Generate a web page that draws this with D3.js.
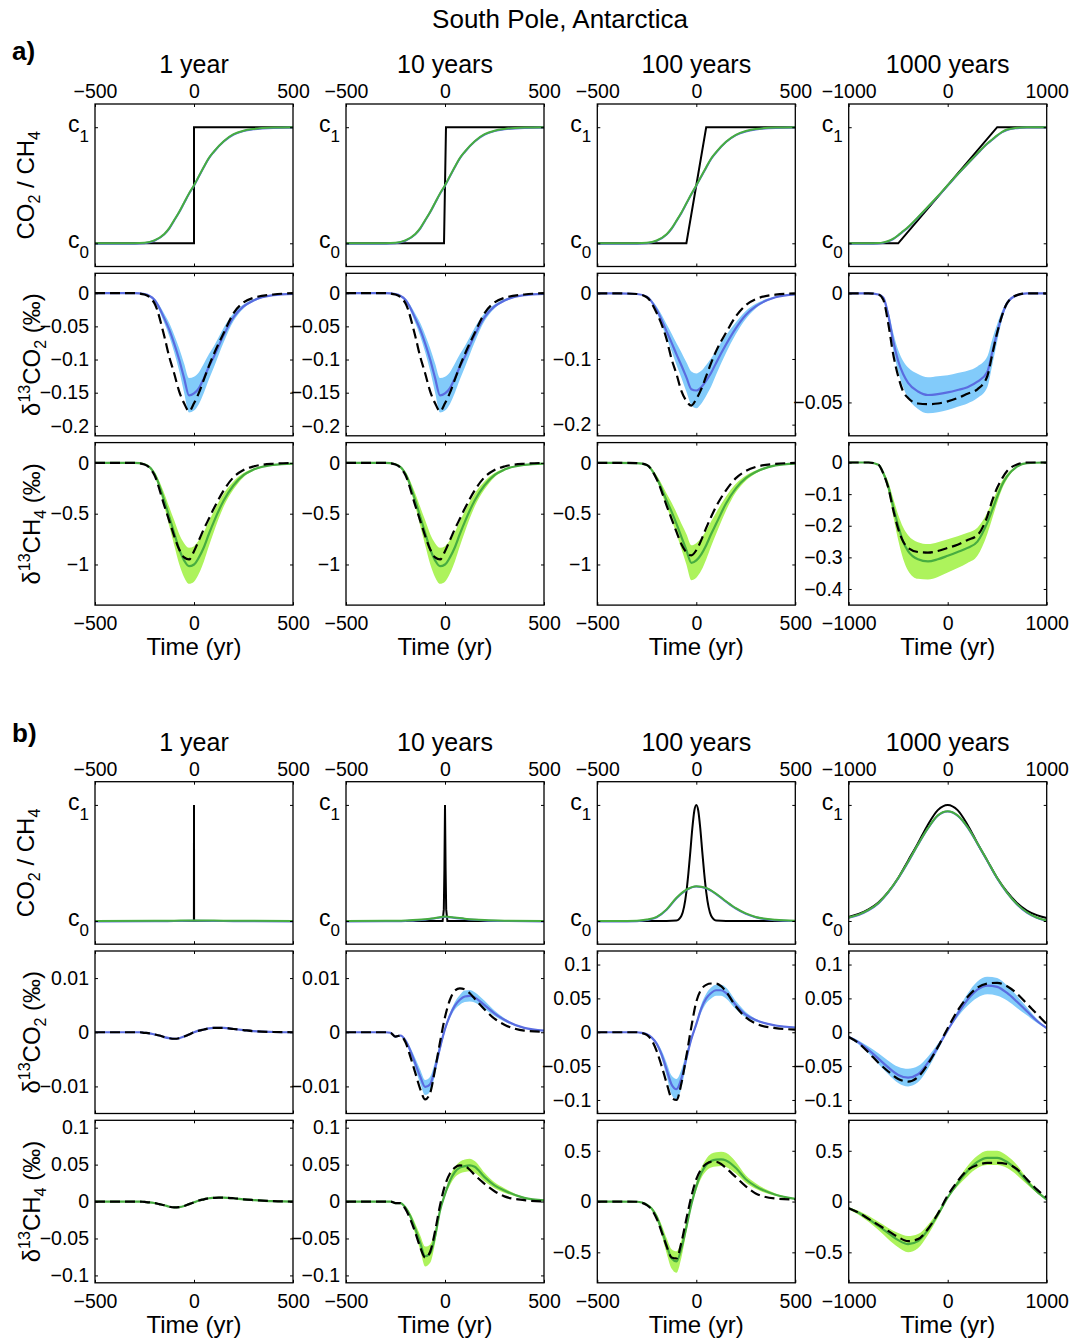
<!DOCTYPE html>
<html>
<head>
<meta charset="utf-8">
<script src="https://cdn.jsdelivr.net/npm/d3@7/dist/d3.min.js"></script>
<style>
  body { margin: 0; background: #fff; }
  svg text { font-family: "Liberation Sans", Arial, Helvetica, sans-serif; fill: #000; }
</style>
</head>
<body>
<div id="chart"></div>
<script>
// ---------------- data ----------------
const colTitles = ["1 year", "10 years", "100 years", "1000 years"];
const xTicks500 = [-500, 0, 500];
const xLabels500 = ["\u2212500", "0", "500"];
const xTicks1000 = [-1000, 0, 1000];
const xLabels1000 = ["\u22121000", "0", "1000"];

// time grids
const tA = [-500,-400,-300,-250,-200,-150,-125,-100,-75,-50,-25,0,25,50,75,100,150,200,250,300,400,500];
const tA1000 = [-1000,-800,-700,-650,-600,-550,-500,-450,-400,-300,-200,-100,0,100,200,300,400,450,500,550,600,700,800,1000];
const tB = [-500,-400,-300,-275,-250,-225,-200,-175,-150,-125,-100,-75,-50,-25,0,25,50,75,100,125,150,200,250,300,400,500];
const tB1000 = [-1000,-900,-800,-700,-600,-500,-400,-300,-200,-100,0,100,200,300,400,500,600,700,800,900,1000];

// a) step forcing, normalised concentration (c0 = 0, c1 = 1)
const stepT1 = [-500, 0, 0, 500], stepV1 = [0, 0, 1, 1];
const stepT10 = [-500, -5, 5, 500], stepV10 = [0, 0, 1, 1];
const stepT100 = [-500, -50, 50, 500], stepV100 = [0, 0, 1, 1];
const stepT1000 = [-1000, -500, 500, 1000], stepV1000 = [0, 0, 1, 1];
const concA1 = [0,0,0,0.004,0.025,0.08,0.13,0.2,0.27,0.35,0.43,0.5,0.58,0.66,0.735,0.79,0.88,0.94,0.97,0.985,0.997,1];
const concA3 = [0,0,0,0.004,0.024,0.078,0.128,0.195,0.265,0.345,0.425,0.5,0.578,0.655,0.73,0.785,0.875,0.935,0.967,0.984,0.997,1];
const concA4 = [0,0,0.002,0.008,0.02,0.04,0.07,0.105,0.14,0.225,0.315,0.405,0.5,0.595,0.685,0.775,0.86,0.895,0.93,0.96,0.98,0.995,1,1];

// a) d13CO2
const co2A1 = [0,0,0,-0.0015,-0.01,-0.038,-0.055,-0.076,-0.1,-0.128,-0.154,-0.151,-0.143,-0.128,-0.111,-0.096,-0.063,-0.036,-0.02,-0.011,-0.003,-0.001];
const co2A1hi = [0,0,0,-0.001,-0.008,-0.031,-0.045,-0.063,-0.083,-0.106,-0.128,-0.126,-0.119,-0.106,-0.092,-0.08,-0.052,-0.03,-0.017,-0.009,-0.0025,-0.0008];
const co2A1lo = [0,0,0,-0.002,-0.012,-0.045,-0.065,-0.089,-0.117,-0.15,-0.18,-0.177,-0.167,-0.15,-0.13,-0.112,-0.074,-0.042,-0.023,-0.013,-0.0035,-0.0012];
const co2A1obs = [0,0,0,-0.002,-0.015,-0.065,-0.096,-0.121,-0.148,-0.166,-0.178,-0.166,-0.15,-0.13,-0.11,-0.092,-0.06,-0.03,-0.014,-0.007,-0.002,0];
const co2A3 = [0,0,-0.001,-0.005,-0.025,-0.058,-0.075,-0.093,-0.11,-0.128,-0.146,-0.148,-0.143,-0.133,-0.121,-0.106,-0.078,-0.053,-0.033,-0.02,-0.006,-0.0015];
const co2A3hi = [0,0,-0.001,-0.004,-0.02,-0.047,-0.061,-0.076,-0.09,-0.105,-0.119,-0.122,-0.118,-0.109,-0.099,-0.087,-0.064,-0.044,-0.027,-0.016,-0.005,-0.0012];
const co2A3lo = [0,0,-0.001,-0.006,-0.03,-0.068,-0.088,-0.109,-0.129,-0.15,-0.17,-0.175,-0.168,-0.156,-0.142,-0.124,-0.091,-0.062,-0.039,-0.023,-0.007,-0.0018];
const co2A3obs = [0,0,-0.001,-0.006,-0.03,-0.07,-0.1,-0.123,-0.149,-0.164,-0.171,-0.161,-0.146,-0.126,-0.106,-0.088,-0.06,-0.035,-0.018,-0.009,-0.002,0];
const co2A4 = [0,0,-0.0005,-0.002,-0.01,-0.022,-0.031,-0.037,-0.041,-0.045,-0.0466,-0.0462,-0.0454,-0.0443,-0.043,-0.0405,-0.036,-0.027,-0.018,-0.01,-0.0045,-0.0008,0,0];
const co2A4hi = [0,0,-0.0004,-0.0017,-0.008,-0.018,-0.026,-0.031,-0.034,-0.037,-0.0385,-0.038,-0.0375,-0.0365,-0.0355,-0.0335,-0.029,-0.021,-0.014,-0.008,-0.0036,-0.0006,0,0];
const co2A4lo = [0,0,-0.0006,-0.0023,-0.012,-0.026,-0.036,-0.043,-0.048,-0.053,-0.055,-0.0545,-0.0535,-0.052,-0.0505,-0.048,-0.043,-0.033,-0.022,-0.012,-0.0054,-0.001,0,0];
const co2A4obs = [0,0,-0.0005,-0.003,-0.014,-0.028,-0.038,-0.045,-0.048,-0.0505,-0.0508,-0.0505,-0.0495,-0.048,-0.046,-0.044,-0.038,-0.028,-0.018,-0.01,-0.0045,-0.0008,0,0];

// a) d13CH4
const ch4A1 = [0,0,0,-0.013,-0.105,-0.37,-0.53,-0.69,-0.85,-0.96,-1.017,-1.0,-0.93,-0.83,-0.7,-0.58,-0.37,-0.22,-0.12,-0.066,-0.02,-0.007];
const ch4A1hi = [0,0,0,-0.011,-0.086,-0.3,-0.435,-0.565,-0.7,-0.79,-0.835,-0.82,-0.76,-0.68,-0.575,-0.475,-0.3,-0.18,-0.1,-0.054,-0.016,-0.006];
const ch4A1lo = [0,0,0,-0.015,-0.123,-0.43,-0.62,-0.81,-0.995,-1.125,-1.19,-1.17,-1.09,-0.97,-0.82,-0.68,-0.43,-0.26,-0.14,-0.077,-0.023,-0.008];
const ch4A1obs = [0,0,0,-0.015,-0.12,-0.42,-0.57,-0.72,-0.85,-0.93,-0.95,-0.87,-0.76,-0.65,-0.55,-0.45,-0.27,-0.14,-0.07,-0.035,-0.008,0];
const ch4A3 = [0,0,-0.002,-0.02,-0.15,-0.37,-0.48,-0.6,-0.73,-0.86,-0.984,-0.96,-0.9,-0.81,-0.7,-0.6,-0.4,-0.25,-0.15,-0.09,-0.025,-0.007];
const ch4A3hi = [0,0,-0.0015,-0.016,-0.123,-0.3,-0.39,-0.49,-0.6,-0.7,-0.81,-0.79,-0.74,-0.665,-0.575,-0.49,-0.33,-0.205,-0.123,-0.074,-0.02,-0.006];
const ch4A3lo = [0,0,-0.0025,-0.024,-0.175,-0.43,-0.56,-0.7,-0.85,-1.0,-1.155,-1.13,-1.06,-0.95,-0.82,-0.7,-0.47,-0.29,-0.175,-0.105,-0.03,-0.008];
const ch4A3obs = [0,0,-0.002,-0.02,-0.16,-0.42,-0.55,-0.68,-0.8,-0.88,-0.91,-0.86,-0.76,-0.64,-0.53,-0.43,-0.27,-0.15,-0.08,-0.04,-0.01,0];
const ch4A4 = [0,0,-0.007,-0.034,-0.076,-0.14,-0.2,-0.25,-0.28,-0.306,-0.313,-0.306,-0.295,-0.283,-0.27,-0.25,-0.19,-0.15,-0.108,-0.07,-0.044,-0.013,-0.002,0];
const ch4A4hi = [0,0,-0.005,-0.028,-0.062,-0.115,-0.165,-0.205,-0.23,-0.252,-0.258,-0.252,-0.243,-0.233,-0.222,-0.206,-0.158,-0.123,-0.089,-0.058,-0.036,-0.011,-0.0015,0];
const ch4A4lo = [0,0,-0.009,-0.041,-0.092,-0.17,-0.245,-0.305,-0.342,-0.368,-0.37,-0.362,-0.348,-0.334,-0.318,-0.295,-0.226,-0.177,-0.127,-0.083,-0.052,-0.015,-0.0025,0];
const ch4A4obs = [0,0,-0.007,-0.035,-0.08,-0.15,-0.21,-0.25,-0.27,-0.283,-0.285,-0.28,-0.27,-0.26,-0.245,-0.23,-0.17,-0.12,-0.08,-0.05,-0.027,-0.006,0,0];

// b) pulse forcing, normalised concentration
const pulseT1 = [-500, -0.5, 0, 0.5, 500], pulseV1 = [0, 0, 1, 0, 0];
const pulseT10 = [-500, -12, -6, -3, 0, 3, 6, 12, 500], pulseV10 = [0, 0, 0.1, 0.45, 1, 0.45, 0.1, 0, 0];
const pulseT100 = [-500,-150,-100,-75,-50,-40,-30,-20,-10,0,10,20,30,40,50,75,100,150,500];
const pulseV100 = [0,0,0.004,0.045,0.25,0.41,0.6,0.8,0.95,1,0.95,0.8,0.6,0.41,0.25,0.045,0.004,0,0];
const pulseV1000 = [0.035,0.06,0.1,0.16,0.25,0.37,0.52,0.67,0.83,0.955,1,0.955,0.83,0.67,0.52,0.37,0.25,0.155,0.09,0.05,0.025];
const concT_B1 = [-500,-200,-100,0,100,200,500], concB1 = [0,0.001,0.003,0.005,0.004,0.002,0];
const concT_B2 = [-500,-300,-200,-100,-50,0,50,100,200,300,500], concB2 = [0,0.001,0.004,0.014,0.026,0.038,0.03,0.02,0.008,0.003,0];
const concT_B3 = [-500,-400,-300,-250,-200,-150,-100,-50,0,50,100,150,200,250,300,400,500];
const concB3 = [0,0,0.002,0.012,0.035,0.1,0.2,0.27,0.3,0.285,0.235,0.17,0.11,0.065,0.035,0.01,0.003];
const concB4 = [0.03,0.055,0.095,0.155,0.25,0.37,0.51,0.66,0.8,0.91,0.946,0.91,0.81,0.67,0.52,0.37,0.245,0.145,0.075,0.03,0.005];

// b) d13CO2
const co2B1 = [0,0,0,0,-0.0001,-0.0002,-0.0004,-0.0006,-0.0009,-0.0011,-0.0012,-0.0011,-0.0008,-0.0004,0,0.0003,0.0005,0.0007,0.0008,0.0008,0.0008,0.0006,0.0004,0.0002,0.00005,0];
const co2B2 = [0,0,0,-0.0001,-0.0008,-0.0006,-0.0015,-0.0034,-0.0058,-0.0082,-0.0101,-0.0096,-0.0066,-0.0028,0.0006,0.0031,0.0049,0.006,0.0066,0.0067,0.0064,0.005,0.0035,0.0023,0.0008,0.0003];
const co2B2hi = [0,0,0,-0.0001,-0.0007,-0.0006,-0.0012,-0.0028,-0.0048,-0.0069,-0.0088,-0.0082,-0.0054,-0.002,0.0011,0.0036,0.0056,0.0069,0.0077,0.0078,0.0074,0.0058,0.004,0.0026,0.0009,0.0003];
const co2B2lo = [0,0,0,-0.0002,-0.0009,-0.0008,-0.0018,-0.004,-0.0068,-0.0095,-0.0116,-0.011,-0.0078,-0.0036,0.0001,0.0026,0.0042,0.0051,0.0056,0.0057,0.0055,0.0043,0.003,0.002,0.0007,0.0003];
const co2B2obs = [0,0,0,-0.0001,-0.0008,-0.0006,-0.0018,-0.0045,-0.0075,-0.0105,-0.0124,-0.0112,-0.0068,-0.0018,0.0028,0.006,0.0077,0.0081,0.0079,0.0072,0.0062,0.0042,0.0025,0.0014,0.0003,0.0001];
const co2B3 = [0,0,0,-0.001,-0.003,-0.008,-0.017,-0.033,-0.055,-0.077,-0.084,-0.068,-0.038,-0.01,0.012,0.035,0.05,0.058,0.062,0.062,0.058,0.04,0.026,0.018,0.01,0.007];
const co2B3hi = [0,0,0,-0.0008,-0.0025,-0.0065,-0.014,-0.027,-0.045,-0.064,-0.069,-0.055,-0.03,-0.006,0.016,0.041,0.057,0.066,0.07,0.07,0.066,0.046,0.03,0.02,0.011,0.008];
const co2B3lo = [0,0,0,-0.0012,-0.0035,-0.0095,-0.02,-0.039,-0.065,-0.092,-0.1,-0.082,-0.047,-0.014,0.008,0.029,0.043,0.05,0.054,0.054,0.05,0.034,0.022,0.016,0.009,0.006];
const co2B3obs = [0,0,0,-0.001,-0.004,-0.012,-0.028,-0.05,-0.075,-0.097,-0.1,-0.075,-0.035,0.008,0.045,0.063,0.07,0.072,0.072,0.068,0.06,0.038,0.022,0.013,0.006,0.004];
const co2B4 = [-0.007,-0.015,-0.026,-0.039,-0.052,-0.063,-0.067,-0.062,-0.045,-0.022,0.003,0.027,0.048,0.063,0.069,0.067,0.058,0.045,0.031,0.017,0.006];
const co2B4hi = [-0.006,-0.012,-0.021,-0.031,-0.042,-0.051,-0.054,-0.05,-0.036,-0.017,0.005,0.032,0.057,0.075,0.082,0.08,0.069,0.054,0.037,0.02,0.007];
const co2B4lo = [-0.008,-0.018,-0.031,-0.047,-0.062,-0.075,-0.08,-0.074,-0.054,-0.027,0.001,0.022,0.039,0.051,0.056,0.054,0.047,0.036,0.025,0.014,0.005];
const co2B4obs = [-0.007,-0.016,-0.03,-0.045,-0.058,-0.069,-0.073,-0.066,-0.047,-0.022,0.006,0.032,0.052,0.066,0.072,0.073,0.068,0.057,0.042,0.027,0.012];

// b) d13CH4
const ch4B1 = [0,0,0,0,-0.0005,-0.001,-0.002,-0.0035,-0.005,-0.007,-0.008,-0.0075,-0.006,-0.0035,-0.001,0.0015,0.003,0.0045,0.005,0.0053,0.0053,0.0045,0.003,0.002,0.0005,0];
const ch4B2 = [0,0,0,0,-0.002,-0.002,-0.008,-0.02,-0.037,-0.056,-0.074,-0.07,-0.047,-0.012,0.01,0.028,0.04,0.046,0.048,0.049,0.047,0.033,0.022,0.015,0.005,0.0015];
const ch4B2hi = [0,0,0,0,-0.0015,-0.0015,-0.0065,-0.016,-0.03,-0.046,-0.061,-0.058,-0.039,-0.009,0.013,0.034,0.047,0.054,0.057,0.058,0.055,0.039,0.026,0.018,0.006,0.0018];
const ch4B2lo = [0,0,0,0,-0.0025,-0.0025,-0.0095,-0.024,-0.044,-0.066,-0.088,-0.083,-0.056,-0.016,0.007,0.022,0.033,0.038,0.04,0.041,0.039,0.027,0.018,0.012,0.004,0.0012];
const ch4B2obs = [0,0,0,0,-0.002,-0.002,-0.01,-0.024,-0.042,-0.062,-0.076,-0.068,-0.04,-0.005,0.022,0.038,0.046,0.049,0.048,0.043,0.036,0.024,0.014,0.007,0.002,0];
const ch4B3 = [0,0,-0.002,-0.01,-0.03,-0.07,-0.15,-0.28,-0.43,-0.56,-0.59,-0.46,-0.25,-0.03,0.15,0.28,0.36,0.4,0.413,0.415,0.405,0.33,0.22,0.15,0.067,0.026];
const ch4B3hi = [0,0,-0.0015,-0.008,-0.025,-0.058,-0.125,-0.23,-0.36,-0.47,-0.49,-0.38,-0.2,-0.01,0.19,0.33,0.42,0.47,0.485,0.49,0.48,0.39,0.26,0.18,0.08,0.03];
const ch4B3lo = [0,0,-0.0025,-0.012,-0.035,-0.085,-0.18,-0.33,-0.51,-0.66,-0.7,-0.55,-0.3,-0.05,0.11,0.23,0.3,0.335,0.345,0.35,0.34,0.275,0.185,0.125,0.056,0.022];
const ch4B3obs = [0,0,-0.002,-0.012,-0.035,-0.08,-0.17,-0.3,-0.44,-0.55,-0.56,-0.4,-0.17,0.05,0.22,0.32,0.37,0.39,0.39,0.37,0.33,0.24,0.15,0.08,0.03,0.02];
const ch4B4 = [-0.065,-0.11,-0.17,-0.24,-0.31,-0.38,-0.42,-0.39,-0.28,-0.13,0.04,0.18,0.3,0.39,0.43,0.43,0.39,0.31,0.2,0.1,0.02];
const ch4B4hi = [-0.055,-0.09,-0.14,-0.2,-0.26,-0.31,-0.34,-0.32,-0.23,-0.1,0.05,0.21,0.35,0.45,0.5,0.5,0.45,0.36,0.23,0.12,0.025];
const ch4B4lo = [-0.075,-0.13,-0.2,-0.28,-0.37,-0.45,-0.5,-0.46,-0.33,-0.16,0.03,0.15,0.25,0.33,0.36,0.36,0.33,0.26,0.17,0.085,0.015];
const ch4B4obs = [-0.065,-0.11,-0.17,-0.23,-0.29,-0.35,-0.39,-0.37,-0.27,-0.12,0.06,0.2,0.31,0.36,0.38,0.38,0.37,0.32,0.22,0.12,0.04];

// y ticks
const yTicksA2 = [0,-0.05,-0.1,-0.15,-0.2], yLabelsA2 = ["0","\u22120.05","\u22120.1","\u22120.15","\u22120.2"];
const yTicksA2c3 = [0,-0.1,-0.2], yLabelsA2c3 = ["0","\u22120.1","\u22120.2"];
const yTicksA2c4 = [0,-0.05], yLabelsA2c4 = ["0","\u22120.05"];
const yTicksA3 = [0,-0.5,-1], yLabelsA3 = ["0","\u22120.5","\u22121"];
const yTicksA3c4 = [0,-0.1,-0.2,-0.3,-0.4], yLabelsA3c4 = ["0","\u22120.1","\u22120.2","\u22120.3","\u22120.4"];
const yTicksB2 = [0.01,0,-0.01], yLabelsB2 = ["0.01","0","\u22120.01"];
const yTicksB5 = [0.1,0.05,0,-0.05,-0.1], yLabelsB5 = ["0.1","0.05","0","\u22120.05","\u22120.1"];
const yTicksB3c3 = [0.5,0,-0.5], yLabelsB3c3 = ["0.5","0","\u22120.5"];

// ---------------- layout ----------------
const FONT = '"Liberation Sans", Arial, Helvetica, sans-serif';
const W = 1076, H = 1343;
const colX = [95, 346, 597.3, 848.7];
const pw = 198, ph = 162.5;
const rowY = { a: [104, 273.3, 442.6], b: [781.7, 951, 1120.3] };
const tickFont = 19.5;

const blueLine = "#5a6ce0", blueBand = "#82cbfa";
const greenLine = "#47ad40", greenBand = "#adf35c";

const xCfg = [
  { d: [-500, 500], t: xTicks500, l: xLabels500 },
  { d: [-500, 500], t: xTicks500, l: xLabels500 },
  { d: [-500, 500], t: xTicks500, l: xLabels500 },
  { d: [-1000, 1000], t: xTicks1000, l: xLabels1000 }
];

const partA = {
  conc: [
    { inT: stepT1, inV: stepV1, smooth: false, outT: tA, outV: concA1 },
    { inT: stepT10, inV: stepV10, smooth: false, outT: tA, outV: concA1 },
    { inT: stepT100, inV: stepV100, smooth: false, outT: tA, outV: concA3 },
    { inT: stepT1000, inV: stepV1000, smooth: false, outT: tA1000, outV: concA4 }
  ],
  co2: [
    { t: tA, mid: co2A1, hi: co2A1hi, lo: co2A1lo, obs: co2A1obs, yd: [-0.215, 0.03], yt: yTicksA2, yl: yLabelsA2 },
    { t: tA, mid: co2A1, hi: co2A1hi, lo: co2A1lo, obs: co2A1obs, yd: [-0.215, 0.03], yt: yTicksA2, yl: yLabelsA2 },
    { t: tA, mid: co2A3, hi: co2A3hi, lo: co2A3lo, obs: co2A3obs, yd: [-0.217, 0.0305], yt: yTicksA2c3, yl: yLabelsA2c3 },
    { t: tA1000, mid: co2A4, hi: co2A4hi, lo: co2A4lo, obs: co2A4obs, yd: [-0.0653, 0.0092], yt: yTicksA2c4, yl: yLabelsA2c4 }
  ],
  ch4: [
    { t: tA, mid: ch4A1, hi: ch4A1hi, lo: ch4A1lo, obs: ch4A1obs, yd: [-1.4, 0.2], yt: yTicksA3, yl: yLabelsA3 },
    { t: tA, mid: ch4A1, hi: ch4A1hi, lo: ch4A1lo, obs: ch4A1obs, yd: [-1.4, 0.2], yt: yTicksA3, yl: yLabelsA3 },
    { t: tA, mid: ch4A3, hi: ch4A3hi, lo: ch4A3lo, obs: ch4A3obs, yd: [-1.4, 0.2], yt: yTicksA3, yl: yLabelsA3 },
    { t: tA1000, mid: ch4A4, hi: ch4A4hi, lo: ch4A4lo, obs: ch4A4obs, yd: [-0.451, 0.063], yt: yTicksA3c4, yl: yLabelsA3c4 }
  ]
};

const partB = {
  conc: [
    { inT: pulseT1, inV: pulseV1, smooth: false, outT: concT_B1, outV: concB1 },
    { inT: pulseT10, inV: pulseV10, smooth: false, outT: concT_B2, outV: concB2 },
    { inT: pulseT100, inV: pulseV100, smooth: true, outT: concT_B3, outV: concB3 },
    { inT: tB1000, inV: pulseV1000, smooth: true, outT: tB1000, outV: concB4 }
  ],
  co2: [
    { t: tB, mid: co2B1, obs: co2B1, yd: [-0.015, 0.015], yt: yTicksB2, yl: yLabelsB2 },
    { t: tB, mid: co2B2, hi: co2B2hi, lo: co2B2lo, obs: co2B2obs, yd: [-0.015, 0.015], yt: yTicksB2, yl: yLabelsB2 },
    { t: tB, mid: co2B3, hi: co2B3hi, lo: co2B3lo, obs: co2B3obs, yd: [-0.12, 0.12], yt: yTicksB5, yl: yLabelsB5 },
    { t: tB1000, mid: co2B4, hi: co2B4hi, lo: co2B4lo, obs: co2B4obs, yd: [-0.12, 0.12], yt: yTicksB5, yl: yLabelsB5 }
  ],
  ch4: [
    { t: tB, mid: ch4B1, obs: ch4B1, yd: [-0.11, 0.11], yt: yTicksB5, yl: yLabelsB5 },
    { t: tB, mid: ch4B2, hi: ch4B2hi, lo: ch4B2lo, obs: ch4B2obs, yd: [-0.11, 0.11], yt: yTicksB5, yl: yLabelsB5 },
    { t: tB, mid: ch4B3, hi: ch4B3hi, lo: ch4B3lo, obs: ch4B3obs, yd: [-0.8, 0.8], yt: yTicksB3c3, yl: yLabelsB3c3 },
    { t: tB1000, mid: ch4B4, hi: ch4B4hi, lo: ch4B4lo, obs: ch4B4obs, yd: [-0.8, 0.8], yt: yTicksB3c3, yl: yLabelsB3c3 }
  ]
};

const svg = d3.select("#chart").append("svg")
  .attr("width", W)
  .attr("height", H);

let clipId = 0;

// frame, inward ticks on all four sides, labels where MATLAB would put them
const drawAxes = (g, x, y, xc, yt, yl, showTop, showBottom) => {
  let left = g.append("g")
    .call(d3.axisLeft(y).tickValues(yt).tickSize(-3).tickPadding(6)
      .tickFormat(yl ? (d, i) => yl[i] : ""));
  let right = g.append("g")
    .attr("transform", `translate(${pw}, 0)`)
    .call(d3.axisRight(y).tickValues(yt).tickSize(-3).tickFormat(""));
  let top = g.append("g")
    .call(d3.axisTop(x).tickValues(xc.t).tickSize(-3).tickPadding(6)
      .tickFormat(showTop ? (d, i) => xc.l[i] : ""));
  let bottom = g.append("g")
    .attr("transform", `translate(0, ${ph})`)
    .call(d3.axisBottom(x).tickValues(xc.t).tickSize(-3).tickPadding(11)
      .tickFormat(showBottom ? (d, i) => xc.l[i] : ""));
  [left, right, top, bottom].forEach(a => {
    a.attr("font-size", tickFont).attr("font-family", FONT);
    a.select(".domain").remove();
    a.selectAll(".tick line").attr("stroke", "#000");
  });
  g.append("rect")
    .attr("width", pw)
    .attr("height", ph)
    .attr("fill", "none")
    .attr("stroke", "#000")
    .attr("stroke-width", 1.3);
};

const makePlot = (g) => {
  let id = "clip" + (clipId++);
  g.append("clipPath").attr("id", id)
    .append("rect").attr("width", pw).attr("height", ph);
  return g.append("g").attr("clip-path", `url(#${id})`);
};

const drawConc = (g, c, xc, showTop) => {
  let x = d3.scaleLinear().domain(xc.d).range([0, pw]);
  let y = d3.scaleLinear().domain([-0.2, 1.2]).range([ph, 0]);
  let plot = makePlot(g);

  let inLine = d3.line()
    .x((d, i) => x(c.inT[i]))
    .y(d => y(d))
    .curve(c.smooth ? d3.curveMonotoneX : d3.curveLinear);
  plot.append("path")
    .attr("d", inLine(c.inV))
    .attr("fill", "none")
    .attr("stroke", "#000")
    .attr("stroke-width", 2);

  let outLine = d3.line()
    .x((d, i) => x(c.outT[i]))
    .y(d => y(d))
    .curve(d3.curveMonotoneX);
  plot.append("path")
    .attr("d", outLine(c.outV))
    .attr("fill", "none")
    .attr("stroke", blueLine)
    .attr("stroke-width", 2)
    .attr("transform", "translate(0, 0.4)");
  plot.append("path")
    .attr("d", outLine(c.outV))
    .attr("fill", "none")
    .attr("stroke", greenLine)
    .attr("stroke-width", 2);

  drawAxes(g, x, y, xc, [0, 1], null, showTop, false);

  // c0 / c1 labels
  [0, 1].forEach(v => {
    let t = g.append("text")
      .attr("x", -6)
      .attr("y", y(v) + 5)
      .attr("text-anchor", "end")
      .attr("font-size", 23);
    t.append("tspan").text("c");
    t.append("tspan").attr("dy", 10).attr("font-size", 17).text(v);
  });
};

const drawIso = (g, s, xc, lineCol, bandCol, showBottom) => {
  let x = d3.scaleLinear().domain(xc.d).range([0, pw]);
  let y = d3.scaleLinear().domain(s.yd).range([ph, 0]);
  let plot = makePlot(g);

  if (s.hi) {
    let band = d3.area()
      .x((d, i) => x(s.t[i]))
      .y0((d, i) => y(s.lo[i]))
      .y1((d, i) => y(s.hi[i]))
      .curve(d3.curveMonotoneX);
    plot.append("path")
      .attr("d", band(s.t))
      .attr("fill", bandCol);
  }

  let line = d3.line()
    .x((d, i) => x(s.t[i]))
    .y(d => y(d))
    .curve(d3.curveMonotoneX);
  plot.append("path")
    .attr("d", line(s.mid))
    .attr("fill", "none")
    .attr("stroke", lineCol)
    .attr("stroke-width", 2.2);
  plot.append("path")
    .attr("d", line(s.obs))
    .attr("fill", "none")
    .attr("stroke", "#000")
    .attr("stroke-width", 2.2)
    .attr("stroke-dasharray", "10,5");

  drawAxes(g, x, y, xc, s.yt, s.yl, false, showBottom);
};

// rotated y labels with sub/superscripts
const yLabel = (cx, cy, parts) => {
  let t = svg.append("text")
    .attr("transform", `translate(${cx}, ${cy}) rotate(-90)`)
    .attr("text-anchor", "middle")
    .attr("font-size", 24);
  parts.forEach(p => {
    let ts = t.append("tspan").text(p.s);
    if (p.dy) ts.attr("dy", p.dy);
    if (p.fs) ts.attr("font-size", p.fs);
  });
};

const co2Label = [{ s: "\u03b4" }, { s: "13", dy: -10, fs: 16 }, { s: "CO", dy: 10 }, { s: "2", dy: 6, fs: 16 }, { s: " (\u2030)", dy: -6 }];
const ch4Label = [{ s: "\u03b4" }, { s: "13", dy: -10, fs: 16 }, { s: "CH", dy: 10 }, { s: "4", dy: 6, fs: 16 }, { s: " (\u2030)", dy: -6 }];
const concLabel = [{ s: "CO" }, { s: "2", dy: 6, fs: 16 }, { s: " / CH", dy: -6 }, { s: "4", dy: 6, fs: 16 }];

const drawPart = (part, key, titleY, letter, letterY) => {
  let ys = rowY[key];
  svg.append("text")
    .attr("x", 12)
    .attr("y", letterY)
    .attr("font-size", 26)
    .attr("font-weight", "bold")
    .text(letter);

  colX.forEach((cx, c) => {
    svg.append("text")
      .attr("x", cx + pw / 2)
      .attr("y", titleY)
      .attr("text-anchor", "middle")
      .attr("font-size", 25)
      .text(colTitles[c]);

    let g1 = svg.append("g").attr("transform", `translate(${cx}, ${ys[0]})`);
    drawConc(g1, part.conc[c], xCfg[c], true);
    let g2 = svg.append("g").attr("transform", `translate(${cx}, ${ys[1]})`);
    drawIso(g2, part.co2[c], xCfg[c], blueLine, blueBand, false);
    let g3 = svg.append("g").attr("transform", `translate(${cx}, ${ys[2]})`);
    drawIso(g3, part.ch4[c], xCfg[c], greenLine, greenBand, true);

    svg.append("text")
      .attr("x", cx + pw / 2)
      .attr("y", ys[2] + ph + 50)
      .attr("text-anchor", "middle")
      .attr("font-size", 24)
      .text("Time (yr)");
  });

  yLabel(34, ys[0] + ph / 2, concLabel);
  yLabel(40, ys[1] + ph / 2, co2Label);
  yLabel(40, ys[2] + ph / 2, ch4Label);
};

svg.append("text")
  .attr("x", 560)
  .attr("y", 28)
  .attr("text-anchor", "middle")
  .attr("font-size", 26)
  .text("South Pole, Antarctica");

drawPart(partA, "a", 72.5, "a)", 60);
drawPart(partB, "b", 750.5, "b)", 742);
</script>
</body>
</html>
